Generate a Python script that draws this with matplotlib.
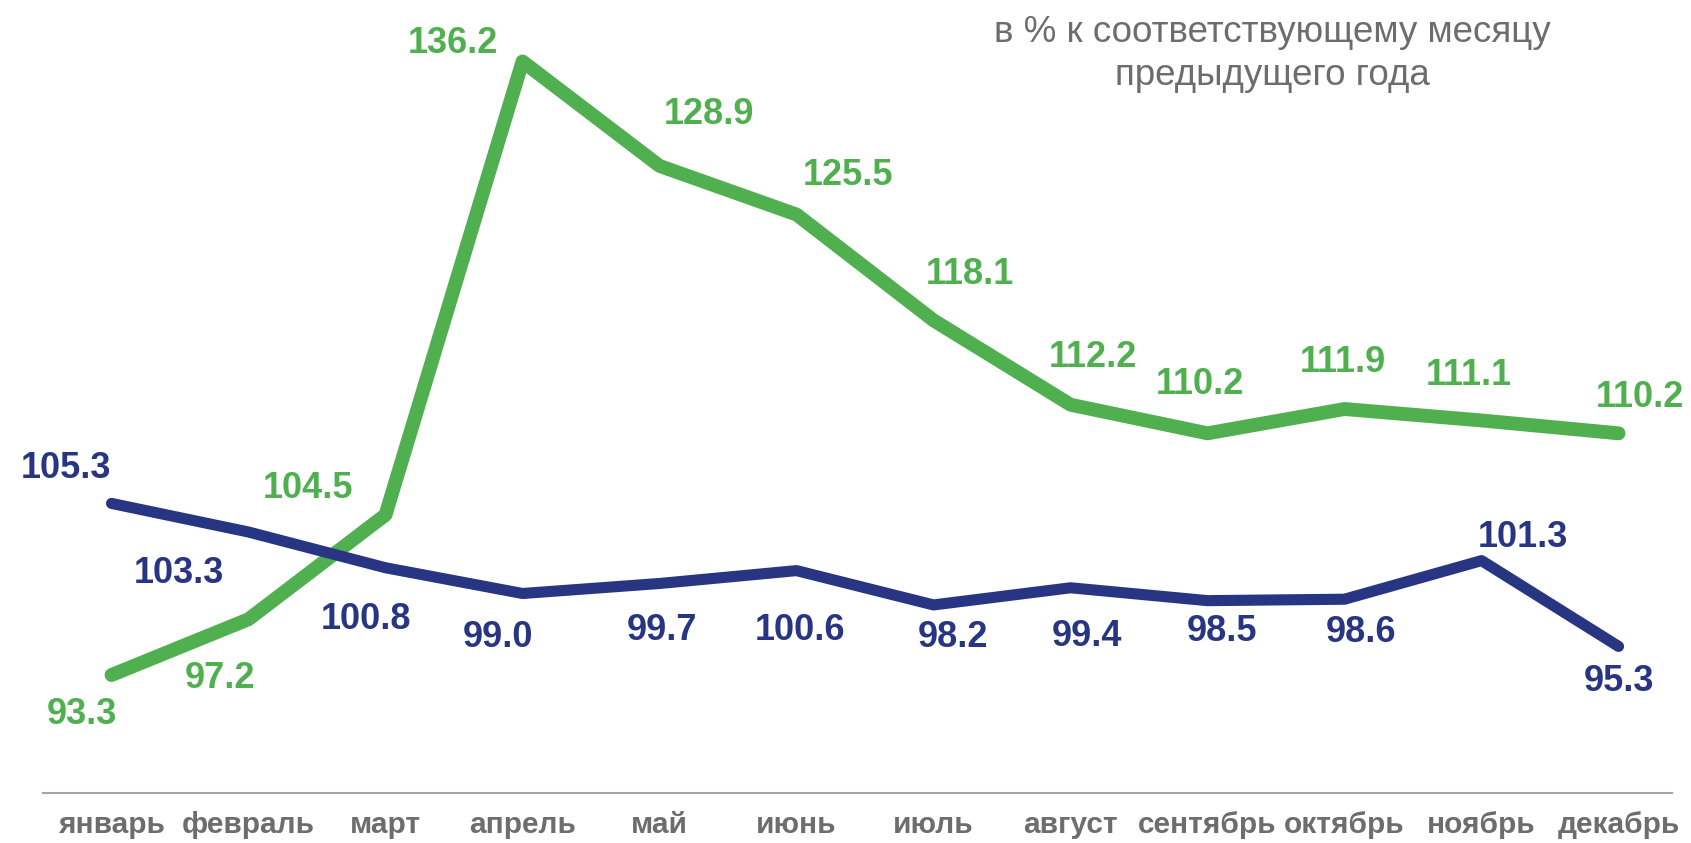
import numpy as np
import matplotlib.pyplot as plt

# Data
months=['январь','февраль','март','апрель','май','июнь','июль','август','сентябрь','октябрь','ноябрь','декабрь']
greenValues=[93.3,97.2,104.5,136.2,128.9,125.5,118.1,112.2,110.2,111.9,111.1,110.2]
blueValues=[105.3,103.3,100.8,99.0,99.7,100.6,98.2,99.4,98.5,98.6,101.3,95.3]

# Label offsets in pixels (dx, dy)
greenDx=[-30,-29,-78,-70,49,51,36,22,-8,-2,-13,21]
greenDy=[-39,-59,26,18,51,39,46,47,49,47,45,36]
blueDx=[-46,-70,-20,-25,2,3,19,16,14,16,41,0]
blueDy=[35,-41,-52,-44,-47,-60,-33,-49,-31,-33,23,-35]

# Colors
green="#50b050"
navy="#283583"
gray="#6d6d6d"

fig=plt.figure(figsize=(16.91,8.43),dpi=100)
ax=fig.add_axes([43/1691,50/843,(1672-43)/1691,793/843])

x=np.arange(len(months))
ax.plot(x,greenValues,'-',color=green,lw=10,solid_capstyle='round',solid_joinstyle='round',zorder=2)
ax.plot(x,blueValues,'-',color=navy,lw=8,solid_capstyle='round',solid_joinstyle='round',zorder=3)

for i in range(len(months)):
	ax.annotate('%.1f'%greenValues[i],xy=(x[i],greenValues[i]),xytext=(greenDx[i],greenDy[i]),
		textcoords='offset pixels',ha='center',va='center',color=green,fontsize=26,
		fontweight='bold',family='Liberation Sans')
	ax.annotate('%.1f'%blueValues[i],xy=(x[i],blueValues[i]),xytext=(blueDx[i],blueDy[i]),
		textcoords='offset pixels',ha='center',va='center',color=navy,fontsize=26,
		fontweight='bold',family='Liberation Sans')

# Axes
ax.set_xlim(-0.5,11.39)
ax.set_ylim(85.05,140.5)
ax.set_xticks(x)
ax.set_xticklabels(months,fontsize=21.5,fontweight='bold',color=gray,family='Liberation Sans')
ax.tick_params(axis='x',length=0,pad=13)
ax.set_yticks([])
for side in ['left','right','top']:
	ax.spines[side].set_visible(False)
ax.spines['bottom'].set_color('#a6a6a6')
ax.spines['bottom'].set_linewidth(1.5)
ax.set_facecolor('none')

# Subtitle
fig.text(1272/1691,1-54/843,'в % к соответствующему месяцу\nпредыдущего года',ha='center',va='center',
	fontsize=26.5,color=gray,family='Liberation Sans',linespacing=1.3)

plt.savefig('out.png',dpi=100)
